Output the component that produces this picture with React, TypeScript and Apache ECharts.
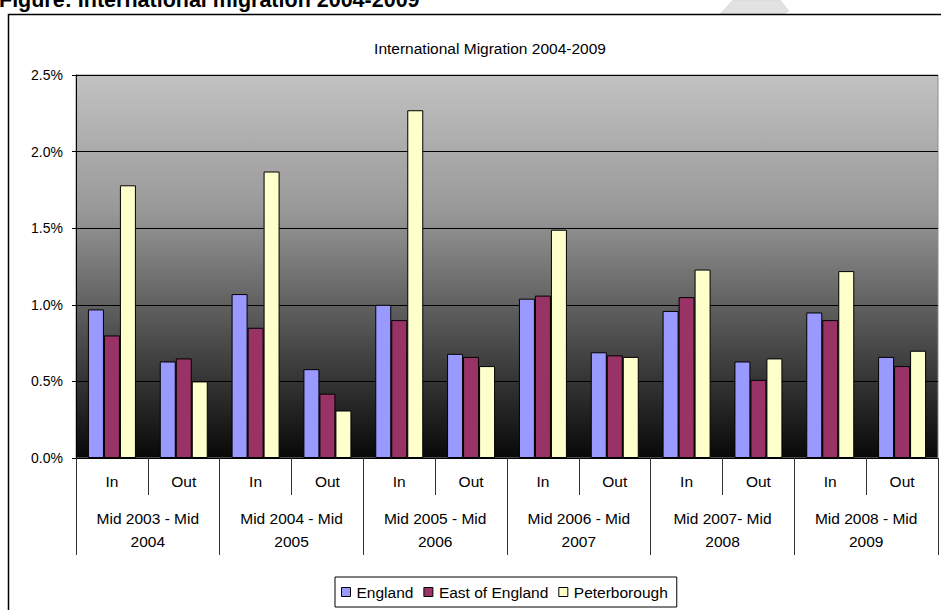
import React, { useEffect, useRef } from "react";
import * as echarts from "echarts";

// Migration flows as a percentage of population, per period and direction
const periods = [
  "Mid 2003 - Mid\n2004",
  "Mid 2004 - Mid\n2005",
  "Mid 2005 - Mid\n2006",
  "Mid 2006 - Mid\n2007",
  "Mid 2007- Mid\n2008",
  "Mid 2008 - Mid\n2009",
];
const flows = ["In", "Out", "In", "Out", "In", "Out", "In", "Out", "In", "Out", "In", "Out"];

const england = [0.97, 0.63, 1.07, 0.58, 1.0, 0.68, 1.04, 0.69, 0.96, 0.63, 0.95, 0.66];
const eastOfEngland = [0.8, 0.65, 0.85, 0.42, 0.9, 0.66, 1.06, 0.67, 1.05, 0.51, 0.9, 0.6];
const peterborough = [1.78, 0.5, 1.87, 0.31, 2.27, 0.6, 1.49, 0.66, 1.23, 0.65, 1.22, 0.7];

const seriesNames = ["England", "East of England", "Peterborough"];
const seriesColors = ["#9999FF", "#993366", "#FFFFCC"];

const yTicks = { min: 0, max: 2.5, interval: 0.5 };

const FONT = "'Liberation Sans', Arial, sans-serif";

export default function App() {
  const ref = useRef<HTMLDivElement>(null);

  useEffect(() => {
    if (!ref.current) return;
    const chart = echarts.init(ref.current, null, { renderer: "svg" });
    const values = [england, eastOfEngland, peterborough];

    chart.setOption({
      animation: false,
      backgroundColor: "#ffffff",
      textStyle: { fontFamily: FONT },
      title: {
        text: "International Migration 2004-2009",
        left: 485,
        top: 35,
        textAlign: "center",
        textStyle: { fontFamily: FONT, fontSize: 15.5, fontWeight: "normal", color: "#000" },
      },
      graphic: [
        {
          type: "text",
          x: -1,
          y: 0.3,
          style: {
            text: "Figure: International migration 2004-2009",
            font: `bold 21.5px ${FONT}`,
            fill: "#000",
            verticalAlign: "middle",
          },
        },
        {
          type: "polygon",
          shape: {
            points: [
              [733, 0],
              [780, 0],
              [789, 11],
              [784, 14],
              [720, 14],
            ],
          },
          style: { fill: "#e2e2e2", stroke: "#cfcfcf", lineWidth: 0.5 },
        },
        {
          type: "rect",
          shape: { x: 8.5, y: 14.5, width: 960, height: 640 },
          style: { fill: "none", stroke: "#000", lineWidth: 1.5 },
        },
      ],
      legend: {
        data: seriesNames,
        left: 335,
        top: 577,
        icon: "rect",
        itemWidth: 9,
        itemHeight: 9,
        itemGap: 10,
        padding: [7, 9, 7, 6],
        borderColor: "#000",
        borderWidth: 1,
        backgroundColor: "#fff",
        itemStyle: { borderColor: "#000", borderWidth: 1 },
        textStyle: { fontFamily: FONT, fontSize: 15.5, color: "#000", padding: [0, 0, 0, 1] },
      },
      grid: {
        left: 76,
        top: 75,
        right: 3,
        bottom: 152,
        show: true,
        borderColor: "#8c8c8c",
        borderWidth: 1,
        backgroundColor: new echarts.graphic.LinearGradient(0, 0, 0, 1, [
          { offset: 0, color: "#c2c2c2" },
          { offset: 0.35, color: "#999999" },
          { offset: 0.7, color: "#4a4a4a" },
          { offset: 1, color: "#080808" },
        ]),
      },
      xAxis: [
        {
          type: "category",
          data: flows,
          position: "bottom",
          axisLine: { show: true, lineStyle: { color: "#000", width: 1 } },
          axisTick: { show: true, length: 37, lineStyle: { color: "#333" } },
          axisLabel: { fontFamily: FONT, fontSize: 15.5, color: "#000", margin: 15.5 },
        },
        {
          type: "category",
          data: periods,
          position: "bottom",
          axisLine: { show: false },
          axisTick: { show: true, length: 97, lineStyle: { color: "#333" } },
          axisLabel: {
            fontFamily: FONT,
            fontSize: 15.5,
            color: "#000",
            margin: 48.5,
            lineHeight: 23.5,
          },
        },
      ],
      yAxis: {
        type: "value",
        min: yTicks.min,
        max: yTicks.max,
        interval: yTicks.interval,
        axisLine: { show: true, lineStyle: { color: "#000", width: 1 } },
        axisTick: { show: true, length: 4, lineStyle: { color: "#000" } },
        splitLine: { show: true, lineStyle: { color: "#000", width: 1 } },
        axisLabel: {
          fontFamily: FONT,
          fontSize: 14,
          color: "#000",
          margin: 13,
          formatter: (v: number) => v.toFixed(1) + "%",
        },
      },
      series: seriesNames.map((name, i) => ({
        name,
        type: "bar",
        xAxisIndex: 0,
        data: values[i],
        barWidth: 16,
        barGap: "0%",
        itemStyle: { color: seriesColors[i], borderColor: "#000", borderWidth: 1 },
      })),
    });

    return () => chart.dispose();
  }, []);

  return (
    <div
      ref={ref}
      style={{ position: "fixed", left: 0, top: 0, width: 941, height: 610 }}
    />
  );
}
